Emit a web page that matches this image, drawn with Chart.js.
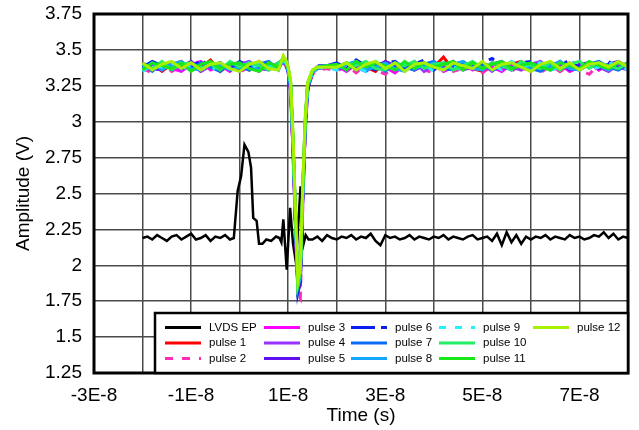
<!DOCTYPE html>
<html>
<head>
<meta charset="utf-8">
<script src="https://cdn.jsdelivr.net/npm/chart.js@4.4.1/dist/chart.umd.min.js"></script>
<style>
  html, body { margin: 0; padding: 0; background: #fff; }
</style>
</head>
<body>
<canvas id="pulseChart" width="639" height="430"></canvas>
<script>
// time is kept in ns, the axis labels show it in seconds
const lvdsTimeNs = [
  -20, -19, -18, -17, -16, -15, -14, -13, -12, -11, -10, -9, -8, -7, -6, -5, -4, -3, -2,
  -1.2, -0.4, 0.3, 1.0, 1.8, 2.35, 2.8, 3.5, 4.0, 4.7, 5.5, 6.5, 7.5, 8.2, 8.6, 9.0, 9.7, 10.4, 11.0, 11.6, 12.1, 12.55, 13.1, 13.6, 14.2,
  15, 16, 17, 18, 19, 20, 21, 22, 23, 24, 25, 26, 27, 28, 29, 30, 31, 32, 33, 34, 35, 36, 37, 38, 39, 40,
  41, 42, 43, 44, 45, 46, 47, 48, 49, 50, 51, 52, 53, 54, 55, 56, 57, 58, 59, 60, 61, 62, 63, 64, 65, 66,
  67, 68, 69, 70, 71, 72, 73, 74, 75, 76, 77, 78, 79, 80
];
const lvdsEp = [
  2.19, 2.20, 2.18, 2.21, 2.19, 2.17, 2.20, 2.21, 2.18, 2.20, 2.22, 2.18, 2.19, 2.21, 2.17, 2.20, 2.19, 2.21, 2.18,
  2.19, 2.52, 2.62, 2.84, 2.79, 2.68, 2.33, 2.31, 2.15, 2.15, 2.18, 2.17, 2.20, 2.19, 2.16, 2.32, 1.97, 2.40, 2.15, 2.02, 2.30, 2.55, 2.14, 2.21, 2.18,
  2.18, 2.20, 2.17, 2.21, 2.19, 2.18, 2.20, 2.19, 2.21, 2.18, 2.20, 2.19, 2.22, 2.17, 2.14, 2.21, 2.19, 2.20, 2.18, 2.19, 2.21, 2.18, 2.20, 2.19, 2.18, 2.20,
  2.19, 2.21, 2.18, 2.20, 2.19, 2.18, 2.20, 2.21, 2.18, 2.19, 2.20, 2.17, 2.22, 2.14, 2.23, 2.16, 2.21, 2.15, 2.20, 2.18, 2.20, 2.19, 2.21, 2.18, 2.20, 2.19,
  2.18, 2.21, 2.19, 2.20, 2.18, 2.19, 2.21, 2.20, 2.23, 2.19, 2.22, 2.18, 2.20, 2.19
];

const pulseTimeNs = [
  -20, -18, -16, -14, -12, -10, -8, -6, -4, -2, 0, 2, 4, 6, 8,
  9, 9.5, 10, 10.5, 11, 11.5, 12, 12.5, 13, 13.5, 14, 15, 16, 18,
  20, 22, 24, 26, 28, 30, 32, 34, 36, 38, 40, 42, 44, 46, 48, 50, 52, 54, 56, 58, 60, 62, 64, 66, 68, 70, 72, 74, 76, 78, 80
];
const pulse1 = [
  3.38, 3.41, 3.35, 3.40, 3.42, 3.36, 3.38, 3.43, 3.35, 3.40, 3.41, 3.36, 3.42, 3.37, 3.40,
  3.42, 3.40, 3.36, 3.22, 2.80, 2.30, 1.88, 1.95, 2.52, 2.98, 3.25, 3.35, 3.38, 3.37,
  3.40, 3.36, 3.41, 3.38, 3.35, 3.42, 3.37, 3.40, 3.36, 3.41, 3.38, 3.45, 3.36, 3.40, 3.37, 3.35, 3.41, 3.38, 3.40, 3.42, 3.36, 3.38, 3.41, 3.35, 3.40, 3.37, 3.41, 3.36, 3.40, 3.38, 3.41
];
const pulse2 = [
  3.37, 3.34, 3.40, 3.35, 3.39, 3.41, 3.35, 3.39, 3.36, 3.40, 3.34, 3.39, 3.35, 3.40, 3.36,
  3.41, 3.39, 3.33, 3.20, 2.78, 2.25, 1.80, 1.77, 2.40, 2.92, 3.20, 3.33, 3.36, 3.37,
  3.35, 3.39, 3.34, 3.40, 3.36, 3.33, 3.39, 3.35, 3.40, 3.36, 3.34, 3.39, 3.35, 3.37, 3.40, 3.34, 3.39, 3.36, 3.35, 3.40, 3.37, 3.34, 3.39, 3.35, 3.39, 3.36, 3.33, 3.40, 3.35, 3.39, 3.37
];
const pulse3 = [
  3.40, 3.36, 3.41, 3.37, 3.35, 3.40, 3.42, 3.36, 3.39, 3.35, 3.41, 3.38, 3.36, 3.40, 3.37,
  3.43, 3.41, 3.35, 3.23, 2.82, 2.28, 1.84, 1.90, 2.46, 2.95, 3.23, 3.34, 3.37, 3.38,
  3.39, 3.35, 3.40, 3.36, 3.41, 3.38, 3.34, 3.40, 3.36, 3.39, 3.41, 3.35, 3.38, 3.40, 3.36, 3.41, 3.38, 3.35, 3.40, 3.37, 3.36, 3.41, 3.38, 3.40, 3.35, 3.38, 3.41, 3.36, 3.40, 3.38, 3.36
];
const pulse4 = [
  3.36, 3.40, 3.38, 3.41, 3.36, 3.40, 3.35, 3.39, 3.41, 3.36, 3.40, 3.42, 3.37, 3.36, 3.40,
  3.44, 3.42, 3.36, 3.25, 2.85, 2.33, 1.85, 1.92, 2.48, 2.96, 3.24, 3.35, 3.37, 3.39,
  3.36, 3.40, 3.38, 3.35, 3.40, 3.41, 3.36, 3.38, 3.42, 3.35, 3.40, 3.37, 3.41, 3.36, 3.38, 3.40, 3.35, 3.41, 3.38, 3.36, 3.40, 3.42, 3.36, 3.38, 3.41, 3.36, 3.40, 3.38, 3.35, 3.40, 3.38
];
const pulse5 = [
  3.41, 3.37, 3.36, 3.40, 3.38, 3.42, 3.36, 3.40, 3.37, 3.41, 3.35, 3.40, 3.37, 3.41, 3.38,
  3.42, 3.40, 3.34, 3.21, 2.79, 2.27, 1.82, 1.86, 2.44, 2.93, 3.22, 3.34, 3.38, 3.38,
  3.38, 3.41, 3.36, 3.40, 3.37, 3.42, 3.39, 3.36, 3.41, 3.38, 3.40, 3.36, 3.42, 3.37, 3.41, 3.36, 3.40, 3.42, 3.37, 3.41, 3.35, 3.40, 3.38, 3.42, 3.36, 3.40, 3.41, 3.37, 3.40, 3.42, 3.38
];
const pulse6 = [
  3.38, 3.42, 3.39, 3.36, 3.41, 3.37, 3.43, 3.38, 3.41, 3.36, 3.42, 3.39, 3.41, 3.37, 3.41,
  3.43, 3.41, 3.36, 3.24, 2.84, 2.32, 1.81, 1.89, 2.47, 2.96, 3.23, 3.35, 3.39, 3.39,
  3.41, 3.37, 3.43, 3.39, 3.36, 3.41, 3.42, 3.37, 3.40, 3.43, 3.36, 3.41, 3.39, 3.42, 3.37, 3.41, 3.44, 3.39, 3.36, 3.41, 3.42, 3.37, 3.41, 3.39, 3.43, 3.37, 3.41, 3.39, 3.42, 3.37, 3.41
];
const pulse7 = [
  3.40, 3.35, 3.41, 3.37, 3.40, 3.36, 3.41, 3.38, 3.35, 3.41, 3.38, 3.36, 3.40, 3.42, 3.36,
  3.44, 3.42, 3.37, 3.26, 2.86, 2.34, 1.87, 1.94, 2.51, 2.98, 3.25, 3.35, 3.37, 3.38,
  3.40, 3.36, 3.41, 3.37, 3.40, 3.35, 3.41, 3.38, 3.36, 3.40, 3.42, 3.37, 3.36, 3.41, 3.38, 3.40, 3.36, 3.38, 3.41, 3.39, 3.37, 3.35, 3.40, 3.41, 3.37, 3.36, 3.40, 3.42, 3.38, 3.36, 3.40
];
const pulse8 = [
  3.37, 3.41, 3.36, 3.40, 3.42, 3.37, 3.36, 3.41, 3.39, 3.36, 3.38, 3.41, 3.36, 3.40, 3.38,
  3.43, 3.41, 3.35, 3.24, 2.83, 2.31, 1.85, 1.91, 2.49, 2.97, 3.24, 3.34, 3.37, 3.39,
  3.37, 3.40, 3.42, 3.36, 3.38, 3.41, 3.37, 3.35, 3.40, 3.38, 3.41, 3.36, 3.40, 3.42, 3.37, 3.36, 3.41, 3.39, 3.37, 3.41, 3.36, 3.40, 3.38, 3.42, 3.37, 3.36, 3.41, 3.39, 3.36, 3.41, 3.39
];
const pulse9 = [
  3.35, 3.40, 3.38, 3.41, 3.36, 3.40, 3.38, 3.35, 3.41, 3.37, 3.40, 3.36, 3.41, 3.38, 3.40,
  3.42, 3.41, 3.36, 3.25, 2.84, 2.33, 1.86, 1.92, 2.50, 2.97, 3.25, 3.35, 3.38, 3.38,
  3.36, 3.41, 3.38, 3.35, 3.42, 3.39, 3.36, 3.41, 3.37, 3.40, 3.35, 3.41, 3.38, 3.36, 3.41, 3.37, 3.40, 3.36, 3.42, 3.38, 3.40, 3.41, 3.36, 3.38, 3.40, 3.42, 3.36, 3.38, 3.41, 3.39, 3.36
];
const pulse10 = [
  3.40, 3.37, 3.42, 3.36, 3.40, 3.41, 3.37, 3.40, 3.36, 3.42, 3.38, 3.41, 3.39, 3.36, 3.41,
  3.44, 3.42, 3.37, 3.27, 2.87, 2.36, 1.88, 1.96, 2.53, 3.00, 3.26, 3.35, 3.38, 3.39,
  3.38, 3.41, 3.39, 3.42, 3.37, 3.36, 3.41, 3.39, 3.42, 3.37, 3.40, 3.41, 3.36, 3.39, 3.42, 3.37, 3.41, 3.39, 3.36, 3.42, 3.39, 3.37, 3.41, 3.36, 3.40, 3.42, 3.37, 3.41, 3.39, 3.37, 3.41
];
const pulse11 = [
  3.36, 3.41, 3.39, 3.37, 3.41, 3.35, 3.40, 3.42, 3.37, 3.40, 3.41, 3.37, 3.35, 3.41, 3.38,
  3.45, 3.43, 3.38, 3.28, 2.88, 2.37, 1.87, 1.97, 2.55, 3.01, 3.27, 3.36, 3.38, 3.39,
  3.40, 3.36, 3.42, 3.38, 3.41, 3.39, 3.36, 3.42, 3.37, 3.41, 3.38, 3.40, 3.42, 3.36, 3.41, 3.37, 3.40, 3.42, 3.37, 3.39, 3.41, 3.38, 3.36, 3.41, 3.39, 3.37, 3.42, 3.39, 3.37, 3.41, 3.39
];
const pulse12 = [
  3.41, 3.36, 3.40, 3.42, 3.37, 3.41, 3.36, 3.40, 3.41, 3.37, 3.35, 3.40, 3.42, 3.37, 3.36,
  3.46, 3.43, 3.38, 3.29, 2.90, 2.38, 1.89, 1.98, 2.56, 3.02, 3.27, 3.36, 3.38, 3.38,
  3.38, 3.41, 3.36, 3.40, 3.42, 3.37, 3.41, 3.35, 3.40, 3.41, 3.38, 3.36, 3.41, 3.39, 3.37, 3.42, 3.36, 3.40, 3.41, 3.38, 3.35, 3.40, 3.42, 3.37, 3.41, 3.36, 3.40, 3.41, 3.38, 3.42, 3.38
];

const seriesNames = ['LVDS EP', 'pulse 1', 'pulse 2', 'pulse 3', 'pulse 4', 'pulse 5', 'pulse 6',
  'pulse 7', 'pulse 8', 'pulse 9', 'pulse 10', 'pulse 11', 'pulse 12'];
const xTickLabels = ['-3E-8', '', '-1E-8', '', '1E-8', '', '3E-8', '', '5E-8', '', '7E-8', ''];

const seriesColors = ['#000000', '#ff0000', '#ff2bb5', '#ff00ff', '#9933ff', '#6010f0', '#0a1ef0',
  '#0a6cf5', '#12a8ff', '#22f0ff', '#22ee66', '#18e818', '#a6f000'];
const seriesDash = [[], [], [8, 9], [], [], [], [24, 6, 6, 6], [], [], [7, 9], [], [], []];

const pulseValues = [pulse1, pulse2, pulse3, pulse4, pulse5, pulse6, pulse7, pulse8, pulse9, pulse10, pulse11, pulse12];

const datasets = [{
  label: seriesNames[0],
  data: lvdsTimeNs.map((t, i) => ({ x: t, y: lvdsEp[i] })),
  borderColor: seriesColors[0],
  borderWidth: 2.5,
  order: 13
}];
pulseValues.forEach((vals, k) => {
  datasets.push({
    label: seriesNames[k + 1],
    data: pulseTimeNs.map((t, i) => ({ x: t, y: vals[i] })),
    borderColor: seriesColors[k + 1],
    borderDash: seriesDash[k + 1],
    borderWidth: 3,
    order: 12 - k   // later pulses on top
  });
});

// thick black frame round the plot
const plotFrame = {
  id: 'plotFrame',
  afterDatasetsDraw(chart) {
    const { ctx, chartArea: a } = chart;
    ctx.save();
    ctx.strokeStyle = '#000';
    ctx.lineWidth = 3;
    ctx.strokeRect(a.left, a.top, a.right - a.left, a.bottom - a.top);
    ctx.restore();
  }
};

// legend box in the bottom right corner of the plot, 3 rows, filled by column
const legendBox = {
  id: 'legendBox',
  afterDraw(chart) {
    const { ctx, chartArea: a } = chart;
    const w = 473, h = 60;
    const left = a.right - w, top = a.bottom - h;
    const colX = [10, 109, 196, 284, 378];
    ctx.save();
    ctx.fillStyle = '#fff';
    ctx.fillRect(left, top, w, h);
    ctx.strokeStyle = '#000';
    ctx.lineWidth = 2.5;
    ctx.strokeRect(left, top, w, h);
    ctx.font = '11.5px "Liberation Sans", Arial, sans-serif';
    ctx.textBaseline = 'middle';
    chart.data.datasets.forEach((ds, i) => {
      const x = left + colX[Math.floor(i / 3)];
      const y = top + 14.5 + (i % 3) * 15.5;
      ctx.strokeStyle = ds.borderColor;
      ctx.lineWidth = 3;
      ctx.setLineDash(ds.borderDash || []);
      ctx.beginPath();
      ctx.moveTo(x, y);
      ctx.lineTo(x + 36, y);
      ctx.stroke();
      ctx.setLineDash([]);
      ctx.fillStyle = '#000';
      ctx.fillText(ds.label, x + 44, y);
    });
    ctx.restore();
  }
};

const axisFont = { family: '"Liberation Sans", Arial, sans-serif', size: 19 };

new Chart(document.getElementById('pulseChart'), {
  type: 'line',
  data: { datasets },
  options: {
    responsive: false,
    animation: false,
    devicePixelRatio: 1,
    layout: { padding: { left: 0, right: 10, top: 14, bottom: 0 } },
    elements: { point: { radius: 0 }, line: { tension: 0 } },
    plugins: { legend: { display: false }, tooltip: { enabled: false } },
    scales: {
      x: {
        type: 'linear',
        min: -30,
        max: 80,
        grid: { color: '#4a4a4a', lineWidth: 1.5, drawTicks: false },
        border: { display: false },
        ticks: {
          stepSize: 10,
          autoSkip: false,
          maxRotation: 0,
          padding: 11,
          color: '#000',
          font: axisFont,
          callback: (v, i) => xTickLabels[i]
        },
        title: { display: true, text: 'Time (s)', color: '#000', font: axisFont, padding: { top: 0, bottom: 3 } },
        afterFit: (s) => { s.height = 57; }
      },
      y: {
        min: 1.25,
        max: 3.75,
        grid: { color: '#4a4a4a', lineWidth: 1.5, drawTicks: false },
        border: { display: false },
        ticks: {
          stepSize: 0.25,
          padding: 12,
          color: '#000',
          font: axisFont,
          callback: (v) => String(Math.round(v * 100) / 100)
        },
        title: { display: true, text: 'Amplitude (V)', color: '#000', font: axisFont, padding: { top: 12, bottom: 0 } },
        // keep the plot top at the layout padding, labels may overhang
        afterFit: (s) => { s.width = 94; s.paddingTop = 0; s.paddingBottom = 0; }
      }
    }
  },
  plugins: [plotFrame, legendBox]
});
</script>
</body>
</html>
